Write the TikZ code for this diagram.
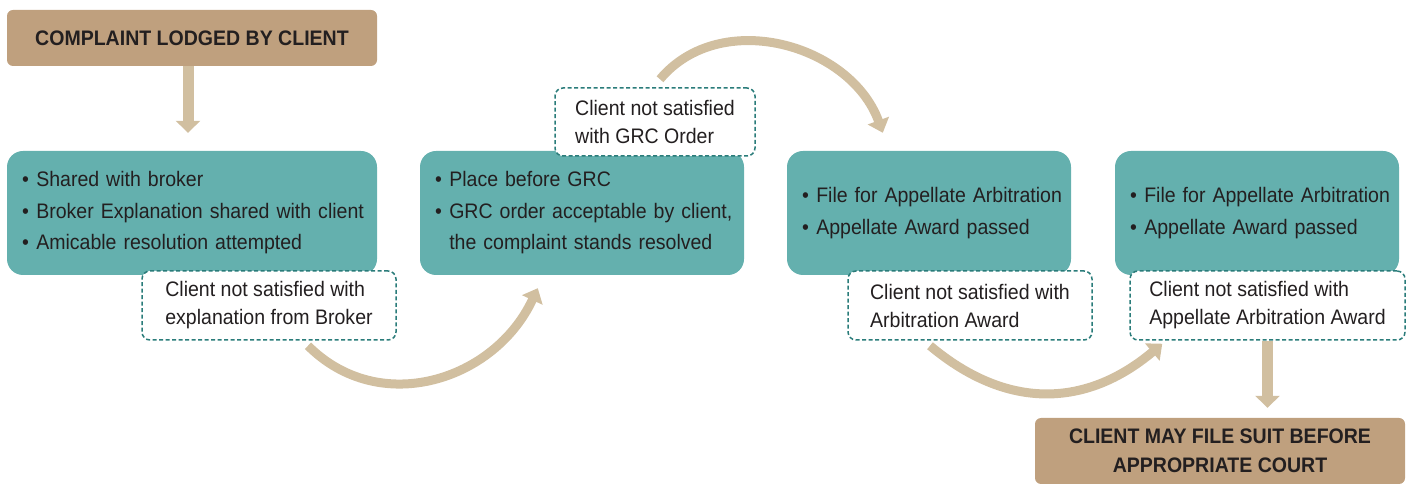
\documentclass[tikz,border=0pt]{standalone}
\usepackage{fontspec}
\setmainfont{Liberation Sans}[FakeStretch=0.93]
\usetikzlibrary{arrows.meta,calc}
\definecolor{boxtan}{HTML}{BFA07E}
\definecolor{sand}{HTML}{D1BFA0}
\definecolor{stagefill}{HTML}{64B0AE}
\definecolor{darkteal}{HTML}{2A7C7A}
\definecolor{ink}{HTML}{231F20}
\newcommand{\bul}[1]{\mbox{\makebox[0.68em][l]{\textbullet}#1}}
\newcommand{\hang}[1]{\mbox{\hspace*{0.68em}#1}}

\begin{document}
\begin{tikzpicture}[x=1pt,y=1pt,
  head/.style={fill=boxtan,rounded corners=6pt,minimum width=370pt,align=center,text=ink,font=\fontsize{21}{29}\selectfont\bfseries},
  stage/.style={fill=stagefill,rounded corners=16pt,minimum height=124pt,inner xsep=15pt,align=left,text=ink,font=\fontsize{21}{31.5}\selectfont},
  note/.style={draw=darkteal,dash pattern=on 4pt off 2.5pt,line width=1.5pt,fill=white,rounded corners=8pt,minimum height=69pt,align=left,text=ink,font=\fontsize{21}{28}\selectfont},
  flow/.style={draw=sand,line width=9pt,-{Triangle[width=22pt,length=13pt]}},
  drop/.style={draw=sand,line width=11pt,-{Triangle[width=24pt,length=12pt]}}]
\useasboundingbox (0,0) rectangle (1413,492);
\node[head,minimum height=56pt] (lodged) at (192,454) {COMPLAINT LODGED BY CLIENT};
\node[stage,text width=340pt] (broker) at (192,279) {\bul{Shared with broker}\\\bul{Broker Explanation shared with client}\\\bul{Amicable resolution attempted}};
\node[stage,text width=294pt] (grc) at (582,279) {\bul{Place before GRC}\\\bul{GRC order acceptable by client,}\\\hang{the complaint stands resolved}};
\node[stage,text width=254pt] (arb) at (929,279) {\bul{File for Appellate Arbitration}\\\bul{Appellate Award passed}};
\node[stage,text width=254pt] (appeal) at (1257,279) {\bul{File for Appellate Arbitration}\\\bul{Appellate Award passed}};
\node[note,minimum width=254pt] (nobroker) at (269,186.5) {Client not satisfied with\\explanation from Broker};
\node[note,minimum width=200pt,minimum height=68pt] (nogrc) at (655,370) {Client not satisfied\\with GRC Order};
\node[note,minimum width=244pt] (noarb) at (970,186.5) {Client not satisfied with\\Arbitration Award};
\node[note,minimum width=275pt] (noappeal) at (1267.5,186.5) {Client not satisfied with\\Appellate Arbitration Award};
\node[head,minimum height=66pt] (court) at (1220,41) {CLIENT MAY FILE SUIT BEFORE\\APPROPRIATE COURT};
\draw[drop,shorten >=18pt] ([xshift=-4pt]lodged.south) -- ([xshift=-4pt]broker.north);
\draw[flow] ($(nobroker.south)+(39,-5)$) to[out=-45,in=-115,looseness=1.1] ($(grc.south west)+(118,-13)$);
\draw[flow] ($(nogrc.north)+(5,8)$) to[out=50,in=110,looseness=1.05] ($(arb.north west)+(96,18)$);
\draw[flow] ($(noarb.south)+(-40,-5)$) to[out=-40,in=-140,looseness=1.1] ($(noappeal.south west)+(33,-3)$);
\draw[drop,shorten >=10pt] (noappeal.south) -- (noappeal.south |- court.north);
\end{tikzpicture}
\end{document}
